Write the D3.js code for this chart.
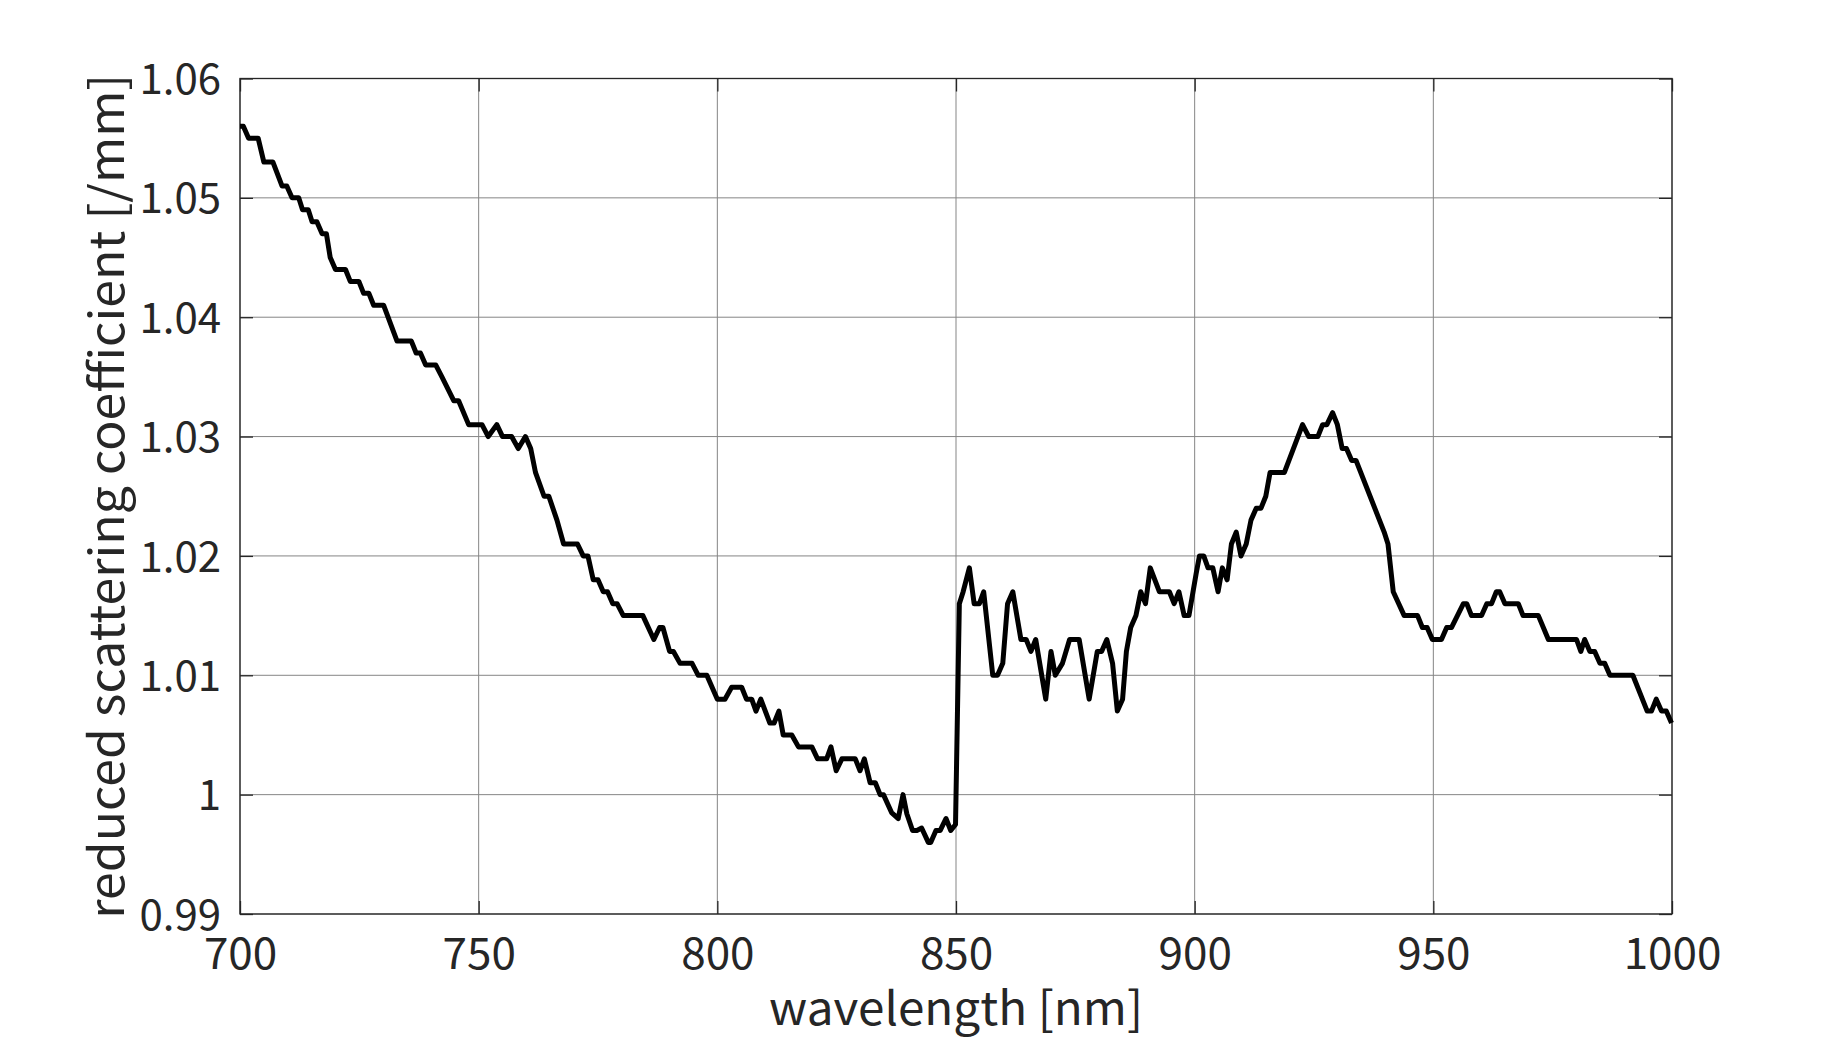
<!DOCTYPE html>
<html>
<head>
<meta charset="utf-8">
<script src="https://cdn.jsdelivr.net/npm/d3@7"></script>
<style>
  html, body { margin: 0; padding: 0; background: #ffffff; }
  svg { display: block; }
  text { font-family: "Noto Sans CJK JP", "Noto Sans", sans-serif; fill: #262626; }
</style>
</head>
<body>
<svg id="chart" width="1846" height="1038"></svg>
<script>
// ---- data ----
const wavelength = [
  700.0, 700.7, 701.8, 703.8, 705.0, 706.9, 708.8, 709.8, 710.9, 712.3, 713.1, 714.3, 715.1, 716.1, 717.2, 718.1,
  718.9, 720.0, 722.1, 723.1, 724.9, 725.9, 727.0, 728.0, 730.1, 732.9, 735.9, 736.9, 737.8, 738.9, 741.0, 742.3,
  744.8, 745.8, 747.9, 750.7,
  752.0, 753.8, 755.0, 756.9, 758.3, 759.8, 760.9, 761.9, 763.7, 764.7, 766.4, 767.8, 770.7, 771.9, 772.9, 774.0,
  775.0, 776.1, 777.0, 778.1, 779.0, 780.3, 784.4, 786.7, 787.9, 788.6, 790.0, 790.8, 792.2, 794.7, 796.0, 797.8, 800.0,
  801.6, 803.0, 805.1, 806.1, 807.2, 808.1, 809.1, 811.0, 811.9, 812.9, 813.8, 815.6, 817.0, 819.8, 821.0, 822.9,
  823.8, 824.9, 826.1, 828.9, 829.9, 830.8, 832.0, 833.1, 834.1, 834.8, 836.5, 837.9, 838.9, 839.7, 840.9, 841.8,
  842.8, 844.2, 844.7, 845.8, 846.7, 847.9, 848.9, 849.9,
  850.7, 851.5, 852.8, 853.8, 854.9, 855.8, 857.7, 858.7, 859.8, 860.8, 861.9, 863.6, 864.7, 865.7, 866.7, 868.8,
  869.9, 870.8, 872.3, 873.8, 875.8, 877.9, 879.6, 880.5, 881.6, 882.8, 883.8, 884.9, 885.7, 886.6, 887.7, 888.7,
  889.7, 890.7, 892.6, 894.7, 895.7, 896.7, 897.8, 898.8,
  900.3, 901.0, 901.9, 902.8, 903.8, 904.9, 905.8, 906.8, 907.7, 908.7, 909.7, 910.8, 911.8, 912.9, 913.9, 914.9,
  915.8, 918.8, 922.6, 923.9, 925.8, 926.8, 927.7, 928.9, 929.9, 930.9, 931.8, 932.9, 933.8, 939.7, 940.5, 941.6,
  943.9, 946.7, 947.7, 948.7, 949.8,
  951.7, 952.8, 953.8, 956.3, 957.0, 958.0, 960.1, 961.2, 962.2, 963.2, 963.9, 965.0, 967.8, 968.8, 972.0, 974.1,
  980.0, 980.9, 981.7, 982.8, 983.8, 984.9, 985.9, 987.0, 991.8, 994.8, 995.7, 996.7, 997.8, 998.8, 999.9
];
const scattering = [
  1.056, 1.056, 1.055, 1.055, 1.053, 1.053, 1.051, 1.051, 1.050, 1.050, 1.049, 1.049, 1.048, 1.048, 1.047, 1.047,
  1.045, 1.044, 1.044, 1.043, 1.043, 1.042, 1.042, 1.041, 1.041, 1.038, 1.038, 1.037, 1.037, 1.036, 1.036, 1.035,
  1.033, 1.033, 1.031, 1.031,
  1.030, 1.031, 1.030, 1.030, 1.029, 1.030, 1.029, 1.027, 1.025, 1.025, 1.023, 1.021, 1.021, 1.020, 1.020, 1.018,
  1.018, 1.017, 1.017, 1.016, 1.016, 1.015, 1.015, 1.013, 1.014, 1.014, 1.012, 1.012, 1.011, 1.011, 1.010, 1.010, 1.008,
  1.008, 1.009, 1.009, 1.008, 1.008, 1.007, 1.008, 1.006, 1.006, 1.007, 1.005, 1.005, 1.004, 1.004, 1.003, 1.003,
  1.004, 1.002, 1.003, 1.003, 1.002, 1.003, 1.001, 1.001, 1.000, 1.000, 0.9985, 0.998, 1.000, 0.9984, 0.997, 0.997,
  0.9972, 0.996, 0.996, 0.997, 0.997, 0.998, 0.997, 0.9975,
  1.016, 1.017, 1.019, 1.016, 1.016, 1.017, 1.010, 1.010, 1.011, 1.016, 1.017, 1.013, 1.013, 1.012, 1.013, 1.008,
  1.012, 1.010, 1.011, 1.013, 1.013, 1.008, 1.012, 1.012, 1.013, 1.011, 1.007, 1.008, 1.012, 1.014, 1.015, 1.017,
  1.016, 1.019, 1.017, 1.017, 1.016, 1.017, 1.015, 1.015,
  1.0185, 1.020, 1.020, 1.019, 1.019, 1.017, 1.019, 1.018, 1.021, 1.022, 1.020, 1.021, 1.023, 1.024, 1.024, 1.025,
  1.027, 1.027, 1.031, 1.030, 1.030, 1.031, 1.031, 1.032, 1.031, 1.029, 1.029, 1.028, 1.028, 1.022, 1.021, 1.017,
  1.015, 1.015, 1.014, 1.014, 1.013,
  1.013, 1.014, 1.014, 1.016, 1.016, 1.015, 1.015, 1.016, 1.016, 1.017, 1.017, 1.016, 1.016, 1.015, 1.015, 1.013,
  1.013, 1.012, 1.013, 1.012, 1.012, 1.011, 1.011, 1.010, 1.010, 1.007, 1.007, 1.008, 1.007, 1.007, 1.006
];
const xTicks = [700, 750, 800, 850, 900, 950, 1000];
const yTicks = [0.99, 1.00, 1.01, 1.02, 1.03, 1.04, 1.05, 1.06];
const yTickLabels = ["0.99", "1", "1.01", "1.02", "1.03", "1.04", "1.05", "1.06"];
const xLabel = "wavelength [nm]";
const yLabel = "reduced scattering coefficient [/mm]";

// ---- layout ----
const plotLeft = 240, plotRight = 1672, plotTop = 78.5, plotBottom = 914;
const svg = d3.select("#chart");
const x = d3.scaleLinear().domain([700, 1000]).range([plotLeft, plotRight]);
const y = d3.scaleLinear().domain([0.99, 1.06]).range([plotBottom, plotTop]);

// grid
const grid = svg.append("g");
grid.selectAll("line.gx").data(xTicks).join("line").attr("class", "gx")
  .attr("x1", d => x(d)).attr("x2", d => x(d))
  .attr("y1", plotTop).attr("y2", plotBottom)
  .attr("stroke", "#858585").attr("stroke-width", 1);
grid.selectAll("line.gy").data(yTicks).join("line").attr("class", "gy")
  .attr("x1", plotLeft).attr("x2", plotRight)
  .attr("y1", d => y(d)).attr("y2", d => y(d))
  .attr("stroke", "#858585").attr("stroke-width", 1);

// axes with inward ticks
const tickLen = 13;
const fmtY = d => yTickLabels[yTicks.indexOf(d)];
const axB = svg.append("g").attr("transform", `translate(0,${plotBottom})`)
  .call(d3.axisBottom(x).tickValues(xTicks).tickSize(-tickLen).tickPadding(24).tickFormat(d3.format("d")));
const axL = svg.append("g").attr("transform", `translate(${plotLeft},0)`)
  .call(d3.axisLeft(y).tickValues(yTicks).tickSize(-tickLen).tickPadding(19).tickFormat(fmtY));
const axT = svg.append("g").attr("transform", `translate(0,${plotTop})`)
  .call(d3.axisTop(x).tickValues(xTicks).tickSize(-tickLen).tickFormat(""));
const axR = svg.append("g").attr("transform", `translate(${plotRight},0)`)
  .call(d3.axisRight(y).tickValues(yTicks).tickSize(-tickLen).tickFormat(""));
[axB, axL, axT, axR].forEach(a => {
  a.select(".domain").remove();
  a.selectAll(".tick line").attr("stroke", "#262626").attr("stroke-width", 1.3);
  a.selectAll(".tick text").attr("fill", "#262626")
    .style("font-family", '"Noto Sans CJK JP", "Noto Sans", sans-serif')
    .style("font-size", "44px");
});
axL.selectAll(".tick text").attr("dy", "0.36em").style("font-size", "42px");

// box
svg.append("rect").attr("x", plotLeft).attr("y", plotTop)
  .attr("width", plotRight - plotLeft).attr("height", plotBottom - plotTop)
  .attr("fill", "none").attr("stroke", "#262626").attr("stroke-width", 1.3);

// line
const line = d3.line().x((d, i) => x(wavelength[i])).y((d, i) => y(scattering[i]));
svg.append("path").datum(scattering)
  .attr("d", line)
  .attr("fill", "none").attr("stroke", "#000000")
  .attr("stroke-width", 5).attr("stroke-linejoin", "round").attr("stroke-linecap", "butt");

// axis labels
svg.append("text").attr("x", (plotLeft + plotRight) / 2).attr("y", 1025)
  .attr("text-anchor", "middle").style("font-size", "46px")
  .attr("textLength", 374).attr("lengthAdjust", "spacingAndGlyphs").text(xLabel);
svg.append("text")
  .attr("transform", `translate(124,${(plotTop + plotBottom) / 2}) rotate(-90)`)
  .attr("text-anchor", "middle").style("font-size", "47px")
  .attr("textLength", 845).attr("lengthAdjust", "spacingAndGlyphs").text(yLabel);
</script>
</body>
</html>
